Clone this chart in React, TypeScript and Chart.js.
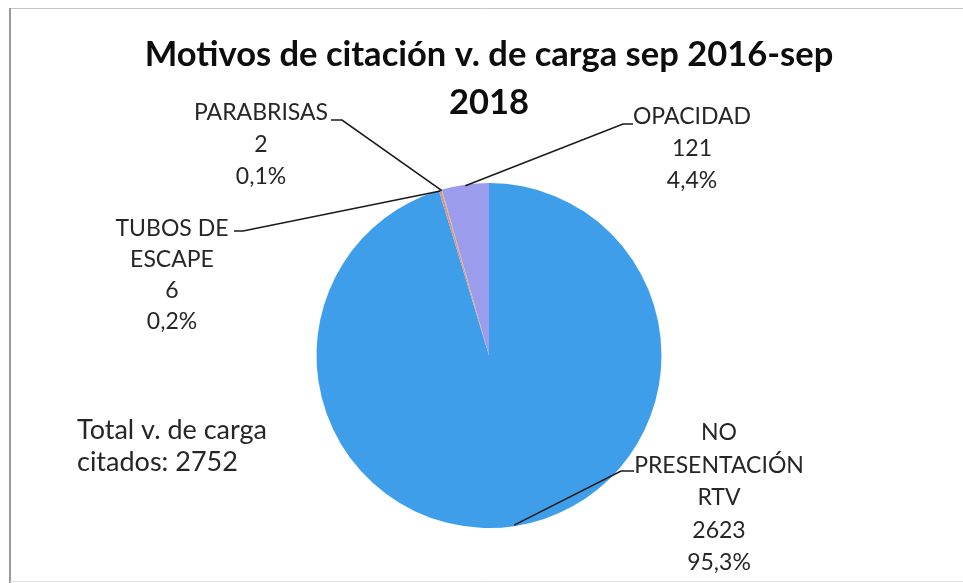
import React, { useEffect, useRef } from "react";
import { Chart, registerables } from "chart.js";

Chart.register(...registerables);

// ---- data ----
const categories = ["NO PRESENTACIÓN RTV", "TUBOS DE ESCAPE", "PARABRISAS", "OPACIDAD"];
const categoryLines = [["NO", "PRESENTACIÓN", "RTV"], ["TUBOS DE", "ESCAPE"], ["PARABRISAS"], ["OPACIDAD"]];
const values = [2623, 6, 2, 121];
const percentLabels = ["95,3%", "0,2%", "0,1%", "4,4%"];
const titleLines = ["Motivos de citación v. de carga sep 2016-sep", "2018"];
const totalLines = ["Total v. de carga", "citados: 2752"];
const sliceColors = ["#3e9eea", "#e0908a", "#a9c47f", "#9c9cec"];

// ---- label layout (positions of the data-label boxes and leader elbows) ----
const labelLayout = [
  { cx: 719, cy: 433, gap: 32.5, hx1: 634, hx2: 621, hy: 471 },
  { cx: 172, cy: 229, gap: 31, hx1: 234, hx2: 243, hy: 231 },
  { cx: 261, cy: 113, gap: 32, hx1: 331, hx2: 342, hy: 120 },
  { cx: 692, cy: 117, gap: 32, hx1: 633, hx2: 623, hy: 124 },
];

const FONT = "Lato, 'Open Sans', sans-serif";

const pieLabelPlugin = {
  id: "pieLabels",
  beforeDraw(chart: any) {
    const ctx = chart.ctx;
    ctx.save();
    ctx.fillStyle = "#ffffff";
    ctx.fillRect(0, 0, chart.width, chart.height);
    ctx.strokeStyle = "#c8c8c8";
    ctx.lineWidth = 1;
    ctx.beginPath();
    ctx.moveTo(10, 8.5);
    ctx.lineTo(chart.width, 8.5);
    ctx.stroke();
    ctx.strokeStyle = "#9a9a9a";
    ctx.lineWidth = 2;
    ctx.beginPath();
    ctx.moveTo(10, 8);
    ctx.lineTo(10, chart.height);
    ctx.stroke();
    ctx.strokeStyle = "#e0e0e0";
    ctx.lineWidth = 1;
    ctx.beginPath();
    ctx.moveTo(10, chart.height - 1.5);
    ctx.lineTo(chart.width, chart.height - 1.5);
    ctx.stroke();
    ctx.restore();
  },
  afterDatasetsDraw(chart: any) {
    const ctx = chart.ctx;
    const meta = chart.getDatasetMeta(0);
    ctx.save();
    meta.data.forEach((arc: any, i: number) => {
      const p = arc.getProps(["x", "y", "startAngle", "endAngle", "outerRadius"], true);
      const mid = (p.startAngle + p.endAngle) / 2;
      const ax = p.x + Math.cos(mid) * (p.outerRadius - 1);
      const ay = p.y + Math.sin(mid) * (p.outerRadius - 1);
      const L = labelLayout[i];
      // leader line
      ctx.strokeStyle = "#1a1a1a";
      ctx.lineWidth = 1.6;
      ctx.beginPath();
      ctx.moveTo(L.hx1, L.hy);
      ctx.lineTo(L.hx2, L.hy);
      ctx.lineTo(ax, ay);
      ctx.stroke();
      // text
      const lines = [...categoryLines[i], String(values[i]), percentLabels[i]];
      ctx.fillStyle = "#262626";
      ctx.font = `23px ${FONT}`;
      ctx.textAlign = "center";
      ctx.textBaseline = "middle";
      lines.forEach((t, k) => {
        ctx.fillText(t, L.cx, L.cy + k * L.gap);
      });
    });
    // total note
    ctx.fillStyle = "#262626";
    ctx.font = `27px ${FONT}`;
    ctx.textAlign = "left";
    ctx.textBaseline = "middle";
    totalLines.forEach((t, k) => ctx.fillText(t, 77, 430 + k * 32));
    ctx.restore();
  },
};

export default function App() {
  const canvasRef = useRef<HTMLCanvasElement | null>(null);

  useEffect(() => {
    const canvas = canvasRef.current;
    if (!canvas) return;
    const chart = new Chart(canvas, {
      type: "pie",
      data: {
        labels: categories,
        datasets: [
          {
            data: values,
            backgroundColor: sliceColors,
            borderWidth: 0,
            hoverOffset: 0,
          },
        ],
      },
      options: {
        responsive: false,
        animation: false,
        devicePixelRatio: 1,
        layout: { padding: { left: 15, right: 0, top: 0, bottom: 55 } },
        plugins: {
          legend: { display: false },
          tooltip: { enabled: false },
          title: {
            display: true,
            text: titleLines,
            color: "#0d0d0d",
            font: { family: FONT, size: 34.5, weight: "bold", lineHeight: 48 / 34.5 },
            padding: { top: 31, bottom: 56 },
          },
        },
      },
      plugins: [pieLabelPlugin],
    } as any);
    return () => chart.destroy();
  }, []);

  return (
    <div style={{ position: "fixed", left: 0, top: 0, width: 963, height: 583, background: "#fff" }}>
      <canvas ref={canvasRef} width={963} height={583} style={{ display: "block" }} />
    </div>
  );
}
